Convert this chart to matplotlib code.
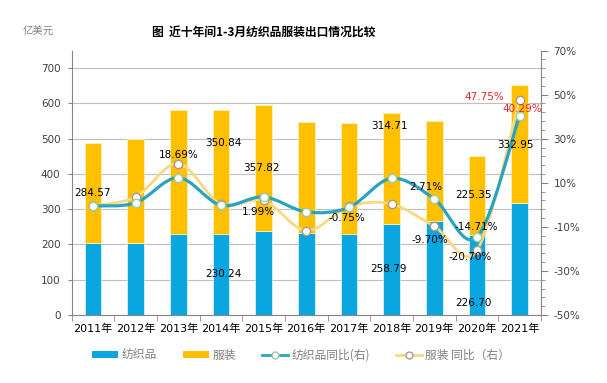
"""
近十年间1-3月纺织品服装出口情况比较 — stacked bars + smoothed YoY lines.
"""
import numpy as np
import matplotlib

matplotlib.use('Agg')
import matplotlib.pyplot as plt
from matplotlib.path import Path
from matplotlib.patches import PathPatch, Patch
from matplotlib.lines import Line2D

plt.rcParams['font.family'] = ['DejaVu Sans', 'Noto Sans CJK SC']

# ── data (亿美元 / %) ──
years = ['2011年', '2012年', '2013年', '2014年', '2015年', '2016年',
         '2017年', '2018年', '2019年', '2020年', '2021年']
textile = [203, 205, 231, 230.24, 238.5, 232, 231, 258.79, 265.8, 226.70, 318.0]
apparel = [284.57, 295, 350, 350.84, 357.82, 316, 313.6, 314.71, 284.2, 225.35, 332.95]
textile_yoy = [-0.5, 0.9, 12.3, -0.2, 3.6, -3.2, -1.2, 12.0, 2.71, -14.71, 40.29]
apparel_yoy = [-0.5, 3.6, 18.69, 0.2, 1.99, -11.7, -0.75, 0.35, -9.70, -20.70, 47.75]

# data labels: (year index, text, x shift, height on left axis, colour)
labels = [
    (0, '284.57', 0.0, 346, 'black'),
    (2, '18.69%', 0.0, 454, 'black'),
    (3, '350.84', 0.05, 488, 'black'),
    (3, '230.24', 0.05, 116, 'black'),
    (4, '357.82', -0.05, 417, 'black'),
    (4, '1.99%', -0.12, 292, 'black'),
    (6, '-0.75%', -0.04, 275, 'black'),
    (7, '314.71', -0.06, 536, 'black'),
    (7, '258.79', -0.06, 130, 'black'),
    (8, '2.71%', -0.2, 363, 'black'),
    (8, '-9.70%', -0.1, 213, 'black'),
    (9, '225.35', -0.08, 340, 'black'),
    (9, '-14.71%', -0.02, 250, 'black'),
    (9, '-20.70%', -0.16, 165, 'black'),
    (9, '226.70', -0.08, 34, 'black'),
    (10, '332.95', -0.1, 482, 'black'),
    (10, '47.75%', -0.82, 619, '#E0262A'),
    (10, '40.29%', 0.07, 585, '#E0262A'),
]

BLUE = '#0AA6E0'
GOLD = '#FFC000'
TEAL = '#2AA3C2'
LIGHT_GOLD = '#F6D982'


def smooth_path(x, y):
    """Catmull-Rom style bezier through the points (like Excel's smoothed line)."""
    verts = [(x[0], y[0])]
    codes = [Path.MOVETO]
    n = len(x)
    for i in range(n - 1):
        xp, yp = (x[i - 1], y[i - 1]) if i > 0 else (x[i], y[i])
        xn, yn = (x[i + 2], y[i + 2]) if i + 2 < n else (x[i + 1], y[i + 1])
        c1 = (x[i] + (x[i + 1] - xp) / 6, y[i] + (y[i + 1] - yp) / 6)
        c2 = (x[i + 1] - (xn - x[i]) / 6, y[i + 1] - (yn - y[i]) / 6)
        verts += [c1, c2, (x[i + 1], y[i + 1])]
        codes += [Path.CURVE4] * 3
    return Path(verts, codes)


fig = plt.figure(figsize=(6.07, 3.83), dpi=100)
ax = fig.add_axes([0.118, 0.1775, 0.773, 0.6905])
ax2 = ax.twinx()

x = np.arange(len(years))
ax.bar(x, textile, width=0.39, color=BLUE, edgecolor='#D8F0FA', linewidth=0.6, zorder=2)
ax.bar(x, apparel, width=0.39, bottom=textile, color=GOLD, edgecolor='#FFF0C0',
       linewidth=0.6, zorder=2)

ax.set_xlim(-0.5, len(years) - 0.5)
ax.set_ylim(0, 750)
ax.set_yticks(range(0, 800, 100))
ax.set_xticks(x)
ax.set_xticklabels(years, fontsize=8)
ax.set_xticks(np.arange(-0.5, len(years)), minor=True)
ax.tick_params(axis='x', which='major', length=0, pad=6)
ax.tick_params(axis='x', which='minor', length=4, color='#868686')
ax.tick_params(axis='y', length=3, color='#868686', labelsize=7.5, labelcolor='#404040', pad=5)
ax.grid(axis='y', color='#BFBFBF', linewidth=0.8)
ax.set_axisbelow(True)
for s in ['top', 'right']:
    ax.spines[s].set_visible(False)
for s in ['left', 'bottom']:
    ax.spines[s].set_color('#868686')

# ── YoY lines on right axis ──
ax2.set_ylim(-50, 70)
ax2.set_yticks(range(-50, 71, 20))
ax2.set_yticklabels([f'{v}%' for v in range(-50, 71, 20)])
ax2.set_yticks(range(-50, 71, 4), minor=True)
ax2.tick_params(axis='y', which='major', length=5, color='#868686', labelsize=7.5,
                labelcolor='#404040', pad=4)
ax2.tick_params(axis='y', which='minor', length=3, color='#868686')
for s in ['top', 'left', 'bottom']:
    ax2.spines[s].set_visible(False)
ax2.spines['right'].set_color('#868686')

ax2.add_patch(PathPatch(smooth_path(x, apparel_yoy), facecolor='none',
                        edgecolor=LIGHT_GOLD, linewidth=2, zorder=3))
ax2.add_patch(PathPatch(smooth_path(x, textile_yoy), facecolor='none',
                        edgecolor=TEAL, linewidth=2.3, zorder=4))
ax2.plot(x, apparel_yoy, 'o', ms=6, mfc='white', mec='#A89A8A', mew=1, zorder=5)
ax2.plot(x, textile_yoy, 'o', ms=6, mfc='white', mec='#9CC9A8', mew=1, zorder=6)

for i, txt, dx, yv, col in labels:
    ax2.text(i + dx, yv, txt, transform=ax.transData, ha='center', va='center',
             fontsize=7.5, color=col, zorder=10)

# ── titles ──
fig.text(0.435, 0.916, '图  近十年间1-3月纺织品服装出口情况比较', ha='center', va='center',
         fontsize=8.5, fontweight='bold', family=['Noto Sans CJK SC'])
fig.text(0.063, 0.916, '亿美元', ha='center', va='center', fontsize=7.5,
         color='#808080', family=['Noto Sans CJK SC'])

handles = [
    Patch(facecolor=BLUE),
    Patch(facecolor=GOLD),
    Line2D([], [], color=TEAL, lw=2, marker='o', ms=5, mfc='white', mec='#9CC9A8'),
    Line2D([], [], color=LIGHT_GOLD, lw=2, marker='o', ms=5, mfc='white', mec='#A89A8A'),
]
fig.legend(handles, ['纺织品', '服装', '纺织品同比(右)', '服装 同比（右）'],
           loc='center', bbox_to_anchor=(0.496, 0.073), ncol=4, frameon=False,
           prop={'family': ['Noto Sans CJK SC'], 'size': 8.5}, labelcolor='#808080',
           handlelength=2.2, handleheight=0.5, columnspacing=2.2, handletextpad=0.3)

fig.savefig('out.png', dpi=100)
